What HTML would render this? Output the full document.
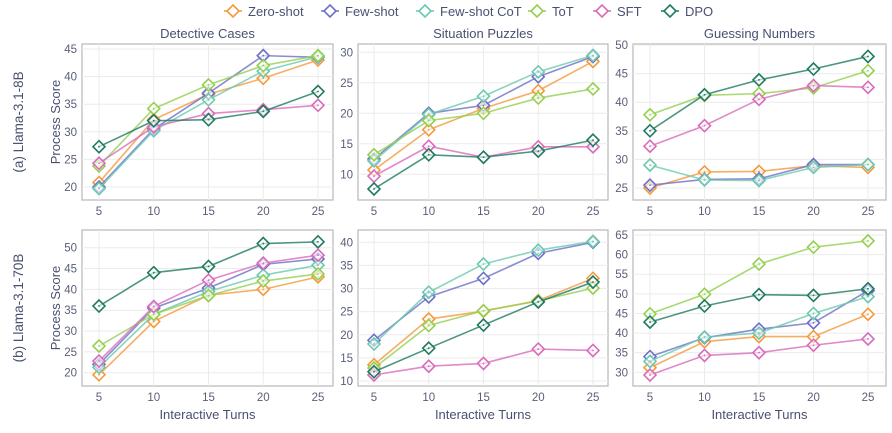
<!DOCTYPE html>
<html><head><meta charset="utf-8"><style>
body{margin:0;background:#fff;width:892px;height:428px;overflow:hidden}
svg{font-family:"Liberation Sans",sans-serif}
</style></head><body>
<svg id="c" width="892" height="428"></svg>
<script>
const turns=[5,10,15,20,25];
const methods=["Zero-shot","Few-shot","Few-shot CoT","ToT","SFT","DPO"];
const colors=["#f39a3c","#6d70c8","#6cc9ae","#94cf4f","#d96bbb","#1f7a60"];
const titles=["Detective Cases","Situation Puzzles","Guessing Numbers"];
const dc8=[[20.8,32.2,36.8,39.7,43.0],[20.0,30.5,37.0,43.8,43.5],[19.7,30.2,35.8,41.0,43.6],[23.8,34.2,38.5,42.0,43.8],[24.3,30.9,33.3,34.0,34.8],[27.3,32.0,32.2,33.7,37.3]];
const sp8=[[10.7,17.3,20.8,23.7,28.5],[12.5,20.0,21.3,26.0,29.3],[12.2,19.8,22.8,26.8,29.5],[13.2,18.8,20.0,22.5,24.0],[9.7,14.6,12.8,14.5,14.5],[7.6,13.2,12.8,13.8,15.6]];
const gn8=[[25.0,27.8,27.9,28.9,28.6],[25.5,26.5,26.6,29.1,29.1],[29.0,26.4,26.3,28.6,29.1],[37.8,41.2,41.5,42.5,45.5],[32.3,35.9,40.5,42.9,42.6],[35.0,41.3,43.9,45.8,48.0]];
const dc70=[[19.5,32.3,38.6,40.0,43.0],[22.0,35.5,40.3,46.0,47.3],[21.3,34.0,39.5,43.4,45.8],[26.4,34.0,38.5,42.0,43.7],[22.8,35.9,42.2,46.3,48.2],[36.0,44.0,45.5,51.0,51.4]];
const sp70=[[13.5,23.4,25.1,27.4,32.2],[18.8,28.2,32.2,37.6,40.0],[18.0,29.2,35.3,38.3,40.2],[12.8,22.0,25.2,27.3,30.1],[11.3,13.2,13.8,16.9,16.6],[12.0,17.1,22.1,27.1,31.4]];
const gn70=[[31.2,37.8,39.1,39.1,44.8],[34.0,38.8,41.0,42.6,50.8],[32.8,39.0,40.0,45.0,49.3],[44.9,49.9,57.6,61.9,63.5],[29.3,34.3,35.0,36.9,38.5],[42.8,46.9,49.8,49.6,51.3]];
const ticks8=[[20,25,30,35,40,45],[10,15,20,25,30],[25,30,35,40,45,50]];
const ticks70=[[20,25,30,35,40,45,50],[10,15,20,25,30,35,40],[30,35,40,45,50,55,60,65]];
const svg=document.getElementById('c');const NS="http://www.w3.org/2000/svg";
function mk(t,a,p){const e=document.createElementNS(NS,t);for(const k in a)e.setAttribute(k,a[k]);(p||svg).appendChild(e);return e;}
const cols=[{x0:82,x1:333,a:99,b:318},{x0:358,x1:608,a:374,b:593},{x0:633,x1:886,a:650,b:868}];
const panels=[
 {r:0,c:0,d:dc8,t:ticks8[0],va:45,pa:49,vb:20,pb:187},
 {r:0,c:1,d:sp8,t:ticks8[1],va:30,pa:52.3,vb:10,pb:174.3},
 {r:0,c:2,d:gn8,t:ticks8[2],va:50,pa:45,vb:25,pb:188},
 {r:1,c:0,d:dc70,t:ticks70[0],va:50,pa:247.7,vb:20,pb:372.7},
 {r:1,c:1,d:sp70,t:ticks70[1],va:40,pa:242.3,vb:10,pb:381},
 {r:1,c:2,d:gn70,t:ticks70[2],va:65,pa:235,vb:30,pb:372.3}];
const rows=[{y0:44,y1:200},{y0:230,y1:386}];
panels.forEach((P,pi)=>{
 const C=cols[P.c],R=rows[P.r];
 const g=mk('g',{});
 
 
 const X=v=>C.a+(v-5)/20*(C.b-C.a);
 const Y=v=>P.pa+(v-P.va)/(P.vb-P.va)*(P.pb-P.pa);
 mk('rect',{x:C.x0,y:R.y0,width:C.x1-C.x0,height:R.y1-R.y0,fill:'#fff',stroke:'#b8b8b8','stroke-width':1.2},g);
 P.t.forEach(v=>{const y=Y(v);mk('line',{x1:C.x0,x2:C.x1,y1:y,y2:y,stroke:'#ebebeb'},g);
  const t=mk('text',{x:C.x0-5,y:y+4,'text-anchor':'end','font-size':11.5,fill:'#5a5f78'},g);t.textContent=v;
  });
 turns.forEach(v=>{const x=X(v);mk('line',{x1:x,x2:x,y1:R.y0,y2:R.y1,stroke:'#ebebeb'},g);
  const t=mk('text',{x:x,y:R.y1+15,'text-anchor':'middle','font-size':11.5,fill:'#5a5f78'},g);t.textContent=v;
  });
 P.d.forEach((s,si)=>{
  const pts=s.map((v,i)=>X(turns[i])+','+Y(v)).join(' ');
  const l=mk('polyline',{points:pts,fill:'none',stroke:colors[si],'stroke-width':1.6,'stroke-opacity':0.8},g);
  
  s.forEach((v,i)=>{const x=X(turns[i]),y=Y(v);
   const m=mk('path',{d:`M${x},${y-6}L${x+6},${y}L${x},${y+6}L${x-6},${y}Z`,fill:'#fff','fill-opacity':0.6,stroke:colors[si],'stroke-width':1.6},g);
   
   mk('circle',{cx:x,cy:y,r:0.9,fill:colors[si]},g);});
 });
 if(P.r===0){const t=mk('text',{x:(C.x0+C.x1)/2,y:38,'text-anchor':'middle','font-size':13,fill:'#4a5070'},g);t.textContent=titles[P.c];
  }
 else{const t=mk('text',{x:(C.x0+C.x1)/2,y:419,'text-anchor':'middle','font-size':13,fill:'#4a5070'},g);t.textContent='Interactive Turns';
  }
 if(P.c===0){const cy=(R.y0+R.y1)/2;
  const t=mk('text',{x:0,y:0,transform:`translate(60,${cy}) rotate(-90)`,'text-anchor':'middle','font-size':13,fill:'#4a5070'},g);t.textContent='Process Score';
  
  const r=mk('text',{x:0,y:0,transform:`translate(23,${cy}) rotate(-90)`,'text-anchor':'middle','font-size':13.5,fill:'#4a5070'},g);r.textContent=P.r?'(b) Llama-3.1-70B':'(a) Llama-3.1-8B';
  }
});
const lx=[233,330,425,537,602,670];
methods.forEach((m,i)=>{const g=mk('g',{});
 
 const x=lx[i],y=11;
 mk('line',{x1:x-9,x2:x+9,y1:y,y2:y,stroke:colors[i],'stroke-width':1.6},g);
 mk('path',{d:`M${x},${y-6}L${x+6},${y}L${x},${y+6}L${x-6},${y}Z`,fill:'#fff',stroke:colors[i],'stroke-width':1.6},g);
 const t=mk('text',{x:x+15,y:y+5,'font-size':13,fill:'#4a5070'},g);t.textContent=m;});
</script>
</body></html>
